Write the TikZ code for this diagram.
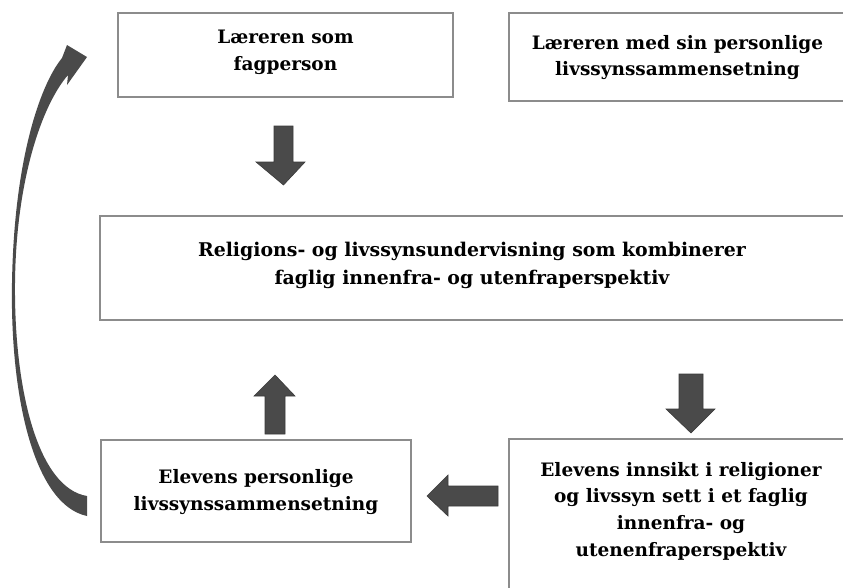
\documentclass[tikz,border=0pt]{standalone}
\usepackage{fontspec}
\setmainfont{DejaVu Serif}
\definecolor{boxline}{HTML}{8C8C8C}
\definecolor{arrowfill}{HTML}{4A4A4A}
\definecolor{arrowline}{HTML}{3A3A3A}
\begin{document}
\begin{tikzpicture}[x=1pt,y=-1pt,
  box/.style={draw=boxline,line width=1.5pt,fill=white},
  boxtext/.style={align=center,font=\bfseries\fontsize{18.5}{26.7}\selectfont,inner sep=0pt},
  midtext/.style={align=center,font=\bfseries\fontsize{18.9}{28}\selectfont,inner sep=0pt},
  blockarrow/.style={fill=arrowfill,draw=arrowline,line width=0.6pt,line join=miter}]
\useasboundingbox (0,0) rectangle (843,587);
\clip (0,0) rectangle (843,587);
% boxes
\draw[box] (118,13) rectangle (453,97);
\draw[box] (509,13) rectangle (850,101);
\draw[box] (100,216) rectangle (850,320);
\draw[box] (101,440) rectangle (411,542);
\draw[box] (509,439) rectangle (855,600);
% texts
\node[boxtext] (a) at (285.5,52) {Læreren som\\fagperson};
\node[boxtext] (b) at (677.5,57.5) {Læreren med sin personlige\\livssynssammensetning};
\node[midtext] (c) at (472,265) {Religions- og livssynsundervisning som kombinerer\\faglig innenfra- og utenfraperspektiv};
\node[boxtext] (d) at (256,492) {Elevens personlige\\livssynssammensetning};
\node[boxtext] (e) at (681,511) {Elevens innsikt i religioner\\og livssyn sett i et faglig\\innenfra- og\\utenenfraperspektiv};
% block arrows
\draw[blockarrow] (274,126) -- (293,126) -- (293,162) -- (305,162) -- (283.5,185) -- (256,162) -- (274,162) -- cycle;
\draw[blockarrow] (679,374) -- (703,374) -- (703,409) -- (715,409) -- (691,433) -- (666,409) -- (679,409) -- cycle;
\draw[blockarrow] (265,434) -- (285,434) -- (285,396) -- (295,396) -- (275,375) -- (254,396) -- (265,396) -- cycle;
\draw[blockarrow] (498,486) -- (498,506) -- (448,506) -- (448,516) -- (427,496) -- (448,475) -- (448,486) -- cycle;
% curved arrow
\fill[arrowfill] (87,516) .. controls (35,505) and (10,400) .. (12,283)
  .. controls (14,160) and (40,85) .. (62,58)
  -- (67,45) -- (87,57) -- (67,85) -- (68,75)
  .. controls (42,105) and (16,180) .. (15,283)
  .. controls (14,390) and (38,488) .. (87,496) -- cycle;
\end{tikzpicture}
\end{document}
